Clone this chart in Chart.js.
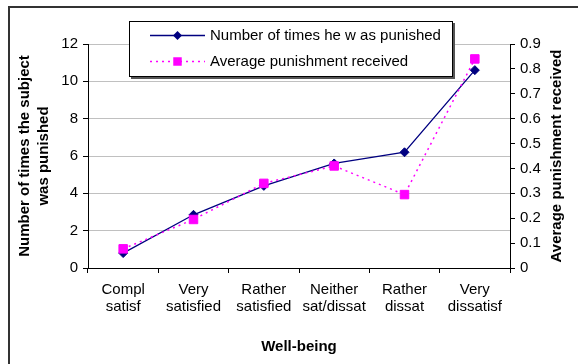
<!DOCTYPE html>
<html>
<head>
<meta charset="utf-8">
<script src="https://cdn.jsdelivr.net/npm/chart.js@4/dist/chart.umd.min.js"></script>
<style>
  html, body { margin: 0; padding: 0; background: #fff; }
  canvas { display: block; }
</style>
</head>
<body>
<canvas id="chart" width="578" height="364"></canvas>
<script>
// Well-being categories (two-line tick labels)
const categories = [
  ['Compl', 'satisf'],
  ['Very', 'satisfied'],
  ['Rather', 'satisfied'],
  ['Neither', 'sat/dissat'],
  ['Rather', 'dissat'],
  ['Very', 'dissatisf']
];

// Left axis series: number of times punished
const timesPunished = [0.8, 2.85, 4.4, 5.6, 6.2, 10.6];
// Right axis series: average punishment received
const avgPunishment = [0.077, 0.195, 0.34, 0.41, 0.295, 0.84];

// Tick values for both value axes
const leftTicks = [0, 2, 4, 6, 8, 10, 12];
const rightTicks = [0, 0.1, 0.2, 0.3, 0.4, 0.5, 0.6, 0.7, 0.8, 0.9];

const seriesLabels = ['Number of times he w as punished', 'Average punishment received'];
const axisTitles = {
  x: 'Well-being',
  left: ['Number of times the subject', 'was punished'],
  right: 'Average punishment received'
};

const FONT = "'Liberation Sans', Arial, Helvetica, sans-serif";
const NAVY = '#000080';
const MAGENTA = '#FF00FF';
const TEXT_SIZE = 15;

// Outer frame of the chart object
const framePlugin = {
  id: 'frame',
  beforeDraw(chart) {
    const ctx = chart.ctx;
    ctx.save();
    ctx.fillStyle = '#fff';
    ctx.fillRect(0, 0, chart.width, chart.height);
    ctx.strokeStyle = '#333';
    ctx.lineWidth = 2;
    ctx.strokeRect(9, 7, chart.width + 20, chart.height + 20);
    ctx.restore();
  }
};

function drawMarker(ctx, style, x, y, r, color) {
  ctx.save();
  ctx.fillStyle = color;
  ctx.beginPath();
  if (style === 'rectRot') {
    ctx.moveTo(x, y - r);
    ctx.lineTo(x + r, y);
    ctx.lineTo(x, y + r);
    ctx.lineTo(x - r, y);
    ctx.closePath();
  } else {
    const s = r * Math.SQRT1_2;
    ctx.rect(x - s, y - s, 2 * s, 2 * s);
  }
  ctx.fill();
  ctx.restore();
}

// Boxed legend sitting over the top of the plot area
const boxLegendPlugin = {
  id: 'boxLegend',
  afterDatasetsDraw(chart, args, opts) {
    const ctx = chart.ctx;
    const { x, y, w, h } = opts;
    ctx.save();
    ctx.fillStyle = '#555';
    ctx.fillRect(x + 2, y + 2, w, h);
    ctx.fillStyle = '#fff';
    ctx.fillRect(x, y, w, h);
    ctx.strokeStyle = '#000';
    ctx.lineWidth = 1;
    ctx.strokeRect(x + 0.5, y + 0.5, w - 1, h - 1);

    chart.data.datasets.forEach((ds, i) => {
      const rowY = opts.rows[i];
      ctx.save();
      ctx.strokeStyle = ds.borderColor;
      ctx.lineWidth = ds.borderWidth;
      ctx.setLineDash(ds.borderDash || []);
      ctx.beginPath();
      ctx.moveTo(opts.sampleX0, rowY + 0.5);
      ctx.lineTo(opts.sampleX1, rowY + 0.5);
      ctx.stroke();
      ctx.restore();
      drawMarker(ctx, ds.pointStyle, (opts.sampleX0 + opts.sampleX1) / 2, rowY + 0.5, ds.pointRadius, ds.backgroundColor);
      ctx.fillStyle = '#000';
      ctx.font = TEXT_SIZE + 'px ' + FONT;
      ctx.textBaseline = 'middle';
      ctx.textAlign = 'left';
      ctx.fillText(ds.label, opts.textX, rowY + 1);
    });
    ctx.restore();
  }
};

// Right-hand axis title, reading bottom to top
const sideTitlePlugin = {
  id: 'sideTitle',
  afterDraw(chart, args, opts) {
    const ctx = chart.ctx;
    const area = chart.chartArea;
    ctx.save();
    ctx.translate(opts.x, (area.top + area.bottom) / 2);
    ctx.rotate(-Math.PI / 2);
    ctx.fillStyle = '#000';
    ctx.font = 'bold ' + TEXT_SIZE + 'px ' + FONT;
    ctx.textAlign = 'center';
    ctx.textBaseline = 'middle';
    ctx.fillText(opts.text, 0, 0);
    ctx.restore();
  }
};

const tickFont = { family: FONT, size: TEXT_SIZE };
const titleFont = { family: FONT, size: TEXT_SIZE, weight: 'bold' };

new Chart(document.getElementById('chart'), {
  type: 'line',
  data: {
    labels: categories,
    datasets: [
      {
        label: seriesLabels[0],
        data: timesPunished,
        yAxisID: 'y',
        borderColor: NAVY,
        backgroundColor: NAVY,
        borderWidth: 1.3,
        pointStyle: 'rectRot',
        pointRadius: 4.5,
        pointBorderWidth: 1,
        pointBorderColor: NAVY,
        pointBackgroundColor: NAVY,
        tension: 0,
        fill: false,
        order: 1
      },
      {
        label: seriesLabels[1],
        data: avgPunishment,
        yAxisID: 'y1',
        borderColor: MAGENTA,
        backgroundColor: MAGENTA,
        borderWidth: 1.5,
        borderDash: [2, 4],
        pointStyle: 'rect',
        pointRadius: 6,
        pointBorderWidth: 1,
        pointBorderColor: MAGENTA,
        pointBackgroundColor: MAGENTA,
        tension: 0,
        fill: false,
        order: 0
      }
    ]
  },
  options: {
    responsive: false,
    animation: false,
    devicePixelRatio: 1,
    events: [],
    layout: { padding: { top: 44, left: 0, right: 0, bottom: 0 } },
    plugins: {
      legend: { display: false },
      tooltip: { enabled: false },
      boxLegend: { x: 129, y: 21, w: 324, h: 56, rows: [35, 61], sampleX0: 150, sampleX1: 205, textX: 210 },
      sideTitle: { text: axisTitles.right, x: 557 }
    },
    scales: {
      x: {
        type: 'category',
        offset: true,
        grid: { offset: true, drawOnChartArea: false, color: '#000', tickColor: '#000', tickLength: 5 },
        border: { color: '#000', width: 1 },
        ticks: { color: '#000', font: { ...tickFont, lineHeight: '17px' }, padding: 8, maxRotation: 0, autoSkip: false },
        title: { display: true, text: axisTitles.x, color: '#000', font: { ...titleFont, lineHeight: '16px' }, padding: { top: 0, bottom: 9 } },
        afterFit(scale) { scale.height = 96; }
      },
      y: {
        position: 'left',
        min: 0,
        max: 12,
        afterBuildTicks(scale) { scale.ticks = leftTicks.map(v => ({ value: v })); },
        grid: { color: '#c0c0c0', tickColor: '#000', tickLength: 5 },
        border: { color: '#000', width: 1 },
        ticks: { color: '#000', font: tickFont, padding: 5 },
        title: { display: true, text: axisTitles.left, color: '#000', font: { ...titleFont, lineHeight: '19px' }, padding: { top: 15, bottom: 0 } },
        afterFit(scale) { scale.width = 88; }
      },
      y1: {
        position: 'right',
        min: 0,
        max: 0.9,
        afterBuildTicks(scale) { scale.ticks = rightTicks.map(v => ({ value: v })); },
        grid: { drawOnChartArea: false, color: '#000', tickColor: '#000', tickLength: 5 },
        border: { color: '#000', width: 1 },
        ticks: { color: '#000', font: tickFont, padding: 5, callback: v => String(Math.round(v * 10) / 10) },
        afterFit(scale) { scale.width = 68; }
      }
    }
  },
  plugins: [framePlugin, boxLegendPlugin, sideTitlePlugin]
});
</script>
</body>
</html>
